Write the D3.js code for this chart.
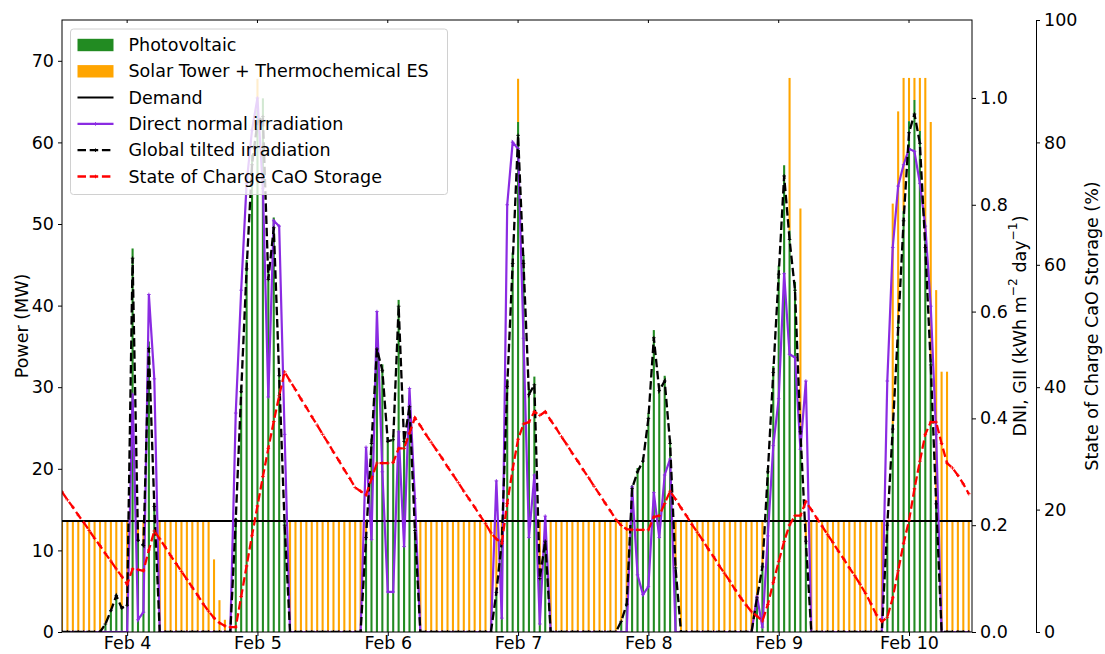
<!DOCTYPE html>
<html>
<head>
<meta charset="utf-8">
<script src="https://cdn.jsdelivr.net/npm/d3@7"></script>
<style>
  body { margin: 0; background: #fff; }
  text { font-family: "DejaVu Sans", sans-serif; fill: #000; }
</style>
</head>
<body>
<svg id="chart" width="1105" height="654"></svg>
<script>
// Hourly series from Feb 3 12:00 to Feb 10 11:00.
// Each row runs from 12:00 to 11:00 of the following day.
const startTime = new Date(2019, 1, 3, 12);
const endTime = new Date(2019, 1, 10, 11, 36);

const demandMW = 13.6;

const photovoltaic = [
  0,0,0,0,0,0,0,0, 1.0,2.8,4.6,3.0, 3.4,47.0,11.6,10.9,35.6,15.8, 0,0,0,0,0,0,
  0,0,0,0,0,0,0,0, 14.0,30.2,45.6,58.5, 64.0,65.4,44.5,50.8,32.2,13.7, 0,0,0,0,0,0,
  0,0,0,0,0,0,0,0, 11.9,23.7,35.5,32.8, 23.9,24.1,40.7,23.9,28.3,12.7, 0,0,0,0,0,0,
  0,0,0,0,0,0,0,0, 5.0,11.4,31.0,46.5, 62.5,46.2,29.8,31.3,6.7,11.4, 0,0,0,0,0,0,
  0,0,0,0,0,0,0,1.3, 3.5,18.0,20.1,21.4, 26.8,37.0,30.3,31.4,23.6,8.0, 0,0,0,0,0,0,
  0,0,0,0,0,0,0,0, 4.3,8.2,20.1,32.6, 44.9,57.2,49.2,42.9,25.1,11.4, 0,0,0,0,0,0,
  0,0,0,0,0,0,0,0, 13.4,25.5,38.2,51.6, 62.6,65.2,61.4,48.2,33.5,16.1, 0,0,0,0,0,0
];

// Solar tower output, stacked on top of the photovoltaic output
const solarTower = [
  13.6,13.6,13.6,13.6,13.6,13.6,13.6,13.6, 12.6,10.8,9.0,10.6, 10.2,0,2.0,2.7,0,0, 13.6,13.6,13.6,13.6,13.6,13.6,
  13.6,13.6,13.6,13.6,8.9,3.9,1.5,0, 0,0,0,0, 3.8,0,0,0,0,0, 13.6,13.6,13.6,13.6,13.6,13.6,
  13.6,13.6,13.6,13.6,13.6,13.6,13.6,13.6, 1.7,0,0,0, 0,0,0,0,0,0.9, 13.6,13.6,13.6,13.6,13.6,13.6,
  13.6,13.6,13.6,13.6,13.6,13.6,13.6,13.6, 8.6,2.2,0,0, 5.3,0,0,0,6.9,2.2, 13.6,13.6,13.6,13.6,13.6,13.6,
  13.6,13.6,13.6,13.6,13.6,13.6,13.6,12.3, 10.1,0,0,0, 0,0,0,0,0,5.6, 13.6,13.6,13.6,13.6,13.6,13.6,
  13.6,13.6,13.6,13.6,13.6,13.6,13.6,13.6, 9.3,5.4,0,0, 0,0,18.7,0,26.8,2.2, 13.6,13.6,13.6,13.6,13.6,13.6,
  13.6,13.6,13.6,13.6,13.6,13.6,13.6,13.6, 0.2,27.0,25.6,16.3, 5.3,2.7,6.5,19.7,29.0,25.8, 31.9,31.9,13.6,13.6,13.6,13.6
];

const directNormal = [
  0,0,0,0,0,0,0,0, 0,0,0,0, 0,0.445,0.023,0.037,0.632,0.474, 0,0,0,0,0,0,
  0,0,0,0,0,0,0,0, 0.41,0.64,0.84,0.94, 1.0,0.83,0.44,0.77,0.76,0.37, 0,0,0,0,0,0,
  0,0,0,0,0,0,0,0, 0.346,0.173,0.60,0.30, 0.075,0.075,0.375,0.16,0.456,0.25, 0,0,0,0,0,0,
  0,0,0,0,0,0,0,0, 0.283,0.026,0.80,0.917, 0.905,0.55,0.177,0.294,0.015,0.217, 0,0,0,0,0,0,
  0,0,0,0,0,0,0,0, 0,0.272,0.107,0.07, 0.085,0.261,0.177,0.294,0.324,0, 0,0,0,0,0,0,
  0,0,0,0,0,0,0,0, 0.067,0.009,0.18,0.349, 0.437,0.671,0.52,0.514,0.342,0.47, 0,0,0,0,0,0,
  0,0,0,0,0,0,0,0, 0.47,0.72,0.835,0.875, 0.905,0.9,0.84,0.76,0.61,0.37, 0,0,0,0,0,0
];

const globalTilted = [
  0,0,0,0,0,0,0,0, 0.015,0.04,0.068,0.045, 0.05,0.70,0.172,0.162,0.531,0.235, 0,0,0,0,0,0,
  0,0,0,0,0,0,0,0, 0.21,0.45,0.68,0.875, 0.955,0.965,0.66,0.757,0.48,0.2, 0,0,0,0,0,0,
  0,0,0,0,0,0,0,0, 0.177,0.353,0.53,0.49, 0.357,0.36,0.61,0.357,0.422,0.19, 0,0,0,0,0,0,
  0,0,0,0,0,0,0,0, 0.074,0.17,0.46,0.69, 0.93,0.69,0.445,0.463,0.10,0.17, 0,0,0,0,0,0,
  0,0,0,0,0,0,0,0.02, 0.052,0.269,0.30,0.32, 0.40,0.551,0.452,0.47,0.353,0.12, 0,0,0,0,0,0,
  0,0,0,0,0,0,0,0, 0.064,0.122,0.30,0.486, 0.67,0.854,0.735,0.64,0.375,0.17, 0,0,0,0,0,0,
  0,0,0,0,0,0,0,0, 0.2,0.38,0.57,0.77, 0.935,0.97,0.915,0.72,0.5,0.24, 0,0,0,0,0,0
];

const stateOfCharge = [
  22.9,21.6,20.4,19.1,17.9,16.6,15.3,14.1,12.8,11.6,10.3,9.1, 7.8,10.3,10.2,10.0,13.4,16.5,15.2,13.9,12.5,11.2,9.9,8.6,
  7.3,6.0,4.6,3.4,2.3,1.5,1.0,0.8,0.8,5.8,10.8,15.8, 20.6,25.4,30.0,34.4,38.6,42.5,41.0,39.6,38.1,36.7,35.2,33.8,
  32.3,30.9,29.4,28.0,26.5,25.1,23.6,23.0,22.4,25.0,27.6,27.6, 27.6,27.7,30.0,30.0,32.5,35.0,33.7,32.3,31.0,29.7,28.4,27.0,
  25.7,24.4,23.0,21.7,20.4,19.0,17.7,16.2,15.2,14.5,21.0,26.6, 31.5,34.0,34.3,36.0,35.4,36.0,34.6,33.3,31.9,30.6,29.2,27.9,
  26.5,25.2,23.8,22.5,21.1,19.8,18.4,17.4,16.8,16.7,16.7,16.7, 16.7,18.8,19.0,21.0,23.0,21.7,20.3,19.0,17.6,16.3,15.0,13.6,
  12.3,10.9,9.6,8.3,6.9,5.6,4.4,3.3,2.6,1.8,4.5,8.1, 11.5,14.8,17.5,19.0,19.0,21.3,20.0,18.6,17.3,15.9,14.6,13.2,
  11.9,10.5,9.2,7.8,6.3,4.6,2.8,1.7,2.4,5.6,10.0,14.5, 18.2,23.4,27.9,32.3,34.3,34.3,30.8,27.6,26.8,25.6,24.2,22.6
];

const powerTicks = [0, 10, 20, 30, 40, 50, 60, 70];
const irradiationTicks = [0, 0.2, 0.4, 0.6, 0.8, 1.0];
const chargeTicks = [0, 20, 40, 60, 80, 100];

const legendLabels = [
  "Photovoltaic",
  "Solar Tower + Thermochemical ES",
  "Demand",
  "Direct normal irradiation",
  "Global tilted irradiation",
  "State of Charge CaO Storage"
];

const COLORS = {
  pv: "#228b22",
  tower: "#ffa500",
  dni: "#8a2be2",
  gti: "#000000",
  soc: "#ff0000"
};

// ---------------------------------------------------------------
const svg = d3.select("#chart");
const plot = { left: 62, right: 972, top: 20, bottom: 632 };
const FONT = 17.5;
const DASH = "8.5,3.7";

const times = d3.range(photovoltaic.length).map(i => d3.timeHour.offset(startTime, i));
const rows = times.map((t, i) => ({
  t,
  pv: photovoltaic[i],
  st: solarTower[i],
  dni: directNormal[i],
  gti: globalTilted[i],
  soc: stateOfCharge[i]
}));

const x = d3.scaleTime().domain([startTime, endTime]).range([plot.left, plot.right]);
const yPower = d3.scaleLinear().domain([0, 75]).range([plot.bottom, plot.top]);
const yIrr = d3.scaleLinear().domain([0, 1.146]).range([plot.bottom, plot.top]);
const ySoc = d3.scaleLinear().domain([0, 100]).range([plot.bottom, plot.top]);

svg.append("defs").append("clipPath").attr("id", "plotClip")
  .append("rect")
  .attr("x", plot.left).attr("y", plot.top)
  .attr("width", plot.right - plot.left).attr("height", plot.bottom - plot.top);

const area = svg.append("g").attr("clip-path", "url(#plotClip)");

// bar width of 0.38 h
const barW = x(d3.timeMinute.offset(startTime, 23)) - x(startTime);

// solar tower bars, stacked on photovoltaic
area.append("g").selectAll("rect").data(rows.filter(d => d.st > 0)).join("rect")
  .attr("x", d => x(d.t) - barW / 2)
  .attr("width", barW)
  .attr("y", d => yPower(d.pv + d.st))
  .attr("height", d => yPower(d.pv) - yPower(d.pv + d.st))
  .attr("fill", COLORS.tower);

// photovoltaic bars
area.append("g").selectAll("rect").data(rows.filter(d => d.pv > 0)).join("rect")
  .attr("x", d => x(d.t) - barW / 2)
  .attr("width", barW)
  .attr("y", d => yPower(d.pv))
  .attr("height", d => yPower(0) - yPower(d.pv))
  .attr("fill", COLORS.pv);

// demand line
area.append("line")
  .attr("x1", plot.left).attr("x2", plot.right)
  .attr("y1", yPower(demandMW)).attr("y2", yPower(demandMW))
  .attr("stroke", "#000").attr("stroke-width", 2);

function drawSeries(key, scale, color, dash, width) {
  const line = d3.line().x(d => x(d.t)).y(d => scale(d[key]));
  area.append("path").datum(rows)
    .attr("d", line)
    .attr("fill", "none")
    .attr("stroke", color)
    .attr("stroke-width", width)
    .attr("stroke-linejoin", "miter")
    .attr("stroke-dasharray", dash || null);
  area.append("g").selectAll("path").data(rows).join("path")
    .attr("transform", d => `translate(${x(d.t)},${scale(d[key])})`)
    .attr("d", "M-1.8,0H1.8M0,-1.8V1.8")
    .attr("stroke", color).attr("stroke-width", 0.9);
}

drawSeries("dni", yIrr, COLORS.dni, null, 2.2);
drawSeries("gti", yIrr, COLORS.gti, DASH, 2.3);
drawSeries("soc", ySoc, COLORS.soc, DASH, 2.3);

// frame
svg.append("rect")
  .attr("x", plot.left).attr("y", plot.top)
  .attr("width", plot.right - plot.left).attr("height", plot.bottom - plot.top)
  .attr("fill", "none").attr("stroke", "#000").attr("stroke-width", 1);

function styleAxis(g) {
  g.selectAll(".tick line").attr("stroke", "#000").attr("stroke-width", 1);
  g.selectAll(".tick text").attr("font-size", FONT).attr("fill", "#000")
    .attr("font-family", "DejaVu Sans, sans-serif");
}

// bottom axis
const xAxis = svg.append("g").attr("transform", `translate(0,${plot.bottom})`)
  .call(d3.axisBottom(x).ticks(d3.timeDay.every(1)).tickFormat(d3.timeFormat("%b %-d"))
    .tickSize(4).tickPadding(0.5));
xAxis.select(".domain").remove();
styleAxis(xAxis);

// small ticks on the top edge
svg.append("g").selectAll("line").data(x.ticks(d3.timeDay.every(1))).join("line")
  .attr("x1", d => x(d)).attr("x2", d => x(d))
  .attr("y1", plot.top).attr("y2", plot.top + 3)
  .attr("stroke", "#000").attr("stroke-width", 1);

// left axis
const yAxisL = svg.append("g").attr("transform", `translate(${plot.left},0)`)
  .call(d3.axisLeft(yPower).tickValues(powerTicks).tickSize(4).tickPadding(4));
yAxisL.select(".domain").remove();
styleAxis(yAxisL);

// right axis: irradiation
const yAxisR1 = svg.append("g").attr("transform", `translate(${plot.right},0)`)
  .call(d3.axisRight(yIrr).tickValues(irradiationTicks).tickFormat(d3.format(".1f"))
    .tickSize(4).tickPadding(4));
yAxisR1.select(".domain").remove();
styleAxis(yAxisR1);

// second right axis: state of charge
const socSpineX = 1036;
const yAxisR2 = svg.append("g").attr("transform", `translate(${socSpineX},0)`)
  .call(d3.axisRight(ySoc).tickValues(chargeTicks).tickSize(4).tickSizeOuter(0).tickPadding(4));
yAxisR2.select(".domain").attr("stroke", "#000").attr("stroke-width", 1);
styleAxis(yAxisR2);

// axis titles
const midY = (plot.top + plot.bottom) / 2;
svg.append("text")
  .attr("transform", `translate(22,${midY}) rotate(-90)`)
  .attr("text-anchor", "middle").attr("dominant-baseline", "central")
  .attr("font-size", FONT).text("Power (MW)");

const irrTitle = svg.append("text")
  .attr("transform", `translate(1020,${midY}) rotate(-90)`)
  .attr("text-anchor", "middle").attr("dominant-baseline", "central")
  .attr("font-size", FONT);
irrTitle.append("tspan").text("DNI, GII (kWh m");
irrTitle.append("tspan").attr("font-size", FONT * 0.7).attr("dy", -7).text("\u22122");
irrTitle.append("tspan").attr("dy", 7).text(" day");
irrTitle.append("tspan").attr("font-size", FONT * 0.7).attr("dy", -7).text("\u22121");
irrTitle.append("tspan").attr("dy", 7).text(")");

svg.append("text")
  .attr("transform", `translate(1092,${midY}) rotate(-90)`)
  .attr("text-anchor", "middle").attr("dominant-baseline", "central")
  .attr("font-size", FONT).text("State of Charge CaO Storage (%)");

// legend
const legend = svg.append("g");
legend.append("rect")
  .attr("x", 70.5).attr("y", 29).attr("width", 377).attr("height", 165.5)
  .attr("rx", 3).attr("ry", 3)
  .attr("fill", "#fff").attr("fill-opacity", 0.8)
  .attr("stroke", "#d0d0d0").attr("stroke-width", 1);

const handleX0 = 77.5, handleX1 = 113.5, textX = 128.5;
const legendStyles = [
  { type: "patch", color: COLORS.pv },
  { type: "patch", color: COLORS.tower },
  { type: "line", color: "#000", dash: null, marker: false, width: 2 },
  { type: "line", color: COLORS.dni, dash: null, marker: true, width: 2.2 },
  { type: "line", color: COLORS.gti, dash: DASH, marker: true, width: 2.3 },
  { type: "line", color: COLORS.soc, dash: DASH, marker: true, width: 2.3 }
];
legendLabels.forEach((label, i) => {
  const cy = 45 + i * 26.3;
  const s = legendStyles[i];
  if (s.type === "patch") {
    legend.append("rect")
      .attr("x", handleX0).attr("y", cy - 6.2)
      .attr("width", handleX1 - handleX0).attr("height", 12.4)
      .attr("fill", s.color);
  } else {
    legend.append("line")
      .attr("x1", handleX0).attr("x2", handleX1).attr("y1", cy).attr("y2", cy)
      .attr("stroke", s.color).attr("stroke-width", s.width)
      .attr("stroke-dasharray", s.dash);
    if (s.marker) {
      legend.append("path")
        .attr("transform", `translate(${(handleX0 + handleX1) / 2},${cy})`)
        .attr("d", "M-1.8,0H1.8M0,-1.8V1.8")
        .attr("stroke", s.color).attr("stroke-width", 0.9);
    }
  }
  legend.append("text")
    .attr("x", textX).attr("y", cy)
    .attr("dominant-baseline", "central")
    .attr("font-size", FONT).text(label);
});
</script>
</body>
</html>
